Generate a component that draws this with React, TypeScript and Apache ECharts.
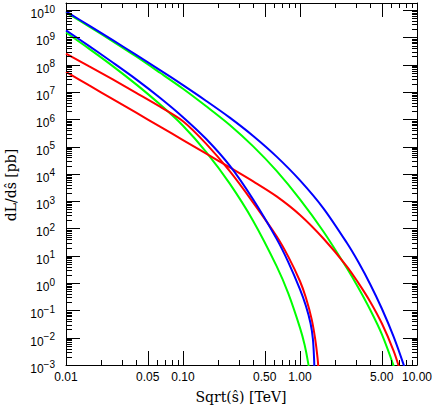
import React, { useEffect, useRef } from 'react';
import * as echarts from 'echarts';

// ---- data (sqrt(s-hat) in TeV, dL/ds-hat in pb) ----
const BLUE1_S = [0.01, 0.0158, 0.0251, 0.0398, 0.0631, 0.1, 0.158, 0.251, 0.398, 0.631, 1.0, 1.585, 2.512, 3.162, 3.981, 5.012, 6.31, 7.67, 8.91];
const BLUE1_V = [8.9e9, 2.7e9, 7.9e8, 2.3e8, 6.5e7, 1.78e7, 4.7e6, 1.15e6, 2.45e5, 4.3e4, 5.8e3, 550, 30, 5.8, 0.91, 0.115, 0.011, 1.05e-3, 1.3e-4];

const GREEN1_S = [0.01, 0.0158, 0.0251, 0.0398, 0.0631, 0.1, 0.158, 0.251, 0.398, 0.631, 1.0, 1.585, 2.512, 3.162, 3.981, 5.012, 6.31, 7.079];
const GREEN1_V = [8.3e9, 2.5e9, 7.2e8, 2.0e8, 5.2e7, 1.32e7, 3.0e6, 6.2e5, 1.02e5, 1.29e4, 1.17e3, 78, 3.55, 0.66, 0.105, 0.0132, 9.3e-4, 1.86e-4];

const BLUE2_S = [0.01, 0.0158, 0.0251, 0.0398, 0.0631, 0.1, 0.158, 0.251, 0.398, 0.631, 0.794, 1.0, 1.122, 1.23, 1.288, 1.318, 1.334];
const BLUE2_V = [1.82e9, 4.8e8, 1.2e8, 2.9e7, 6.3e6, 1.2e6, 1.9e5, 2.0e4, 1.15e3, 41.7, 5.9, 0.59, 0.148, 0.034, 9.3e-3, 1.86e-3, 3.3e-4];

const GREEN2_S = [0.01, 0.0158, 0.0251, 0.0398, 0.0631, 0.1, 0.158, 0.251, 0.398, 0.631, 0.794, 1.0, 1.096, 1.175, 1.23];
const GREEN2_V = [1.51e9, 3.8e8, 8.9e7, 1.9e7, 3.6e6, 5.8e5, 6.3e4, 4.4e3, 190, 4.2, 0.42, 0.023, 5.4e-3, 1.17e-3, 2.95e-4];

const RED1_S = [0.01, 0.0158, 0.0251, 0.0398, 0.0631, 0.1, 0.158, 0.251, 0.398, 0.631, 0.794, 1.0, 1.122, 1.259, 1.349, 1.413, 1.445];
const RED1_V = [2.57e8, 8.7e7, 2.9e7, 9.3e6, 2.95e6, 8.5e5, 1.26e5, 1.26e4, 890, 52, 9.3, 1.17, 0.295, 0.047, 8.9e-3, 1.78e-3, 5.6e-4];

const RED2_S = [0.01, 0.0158, 0.0251, 0.0398, 0.0631, 0.1, 0.158, 0.251, 0.398, 0.631, 1.0, 1.585, 2.512, 3.162, 3.981, 5.012, 6.31, 7.079, 7.413];
const RED2_V = [5.5e7, 1.74e7, 5.5e6, 1.74e6, 5.5e5, 1.74e5, 5.5e4, 1.72e4, 5.3e3, 1.5e3, 313, 43, 4.13, 1.0, 0.209, 0.033, 3.3e-3, 7.4e-4, 3.2e-4];

const X_LABEL_VALUES = [0.01, 0.05, 0.1, 0.5, 1, 5, 10];
const X_MAJOR_TICKS = [0.05, 0.1, 0.5, 1, 5];
const X_MINOR_TICKS = [0.02, 0.03, 0.04, 0.06, 0.07, 0.08, 0.09, 0.2, 0.3, 0.4, 0.6, 0.7, 0.8, 0.9, 2, 3, 4, 6, 7, 8, 9];
const Y_DECADES = [-3, -2, -1, 0, 1, 2, 3, 4, 5, 6, 7, 8, 9, 10];

const X_MIN = -2;
const X_MAX = 1;
const Y_MIN = -3;
const Y_MAX = 10.26;

const toXY = (s: number[], v: number[]) => s.map((x, i) => [Math.log10(x), Math.log10(v[i])]);

export default function App() {
  const ref = useRef<HTMLDivElement>(null);

  useEffect(() => {
    if (!ref.current) return;
    const chart = echarts.init(ref.current, null, { renderer: 'svg' });

    const tickData: number[][] = [];
    X_MAJOR_TICKS.forEach((t) => tickData.push([Math.log10(t), Y_MIN, 0]));
    X_MINOR_TICKS.forEach((t) => tickData.push([Math.log10(t), Y_MIN, 1]));
    Y_DECADES.forEach((d) => {
      if (d > Y_MIN) tickData.push([X_MIN, d, 2]);
      for (let k = 2; k <= 9; k++) {
        const v = d + Math.log10(k);
        if (v < Y_MAX - 0.05) tickData.push([X_MIN, v, 3]);
      }
    });

    const curve = (name: string, s: number[], v: number[], color: string, z: number) => ({
      name,
      type: 'line',
      data: toXY(s, v),
      showSymbol: false,
      symbol: 'none',
      smooth: 0.3,
      clip: true,
      silent: true,
      z,
      lineStyle: { color, width: 2 },
      emphasis: { disabled: true },
    });

    const sup = (d: number) => (d < 0 ? '\u2212' + String(-d) : String(d));
    const axisLine = { show: true, onZero: false, lineStyle: { color: '#000', width: 1 } };
    const sans = '"Liberation Sans", Arial, sans-serif';

    const option: any = {
      animation: false,
      backgroundColor: '#ffffff',
      grid: { left: 66, top: 3, width: 351, height: 362, show: false },
      xAxis: [
        {
          type: 'value',
          min: X_MIN,
          max: X_MAX,
          position: 'bottom',
          axisLine,
          axisTick: { show: false },
          splitLine: { show: false },
          axisLabel: {
            customValues: X_LABEL_VALUES.map((t) => Math.log10(t)),
            formatter: (val: number) => Math.pow(10, val).toFixed(2),
            showMinLabel: true,
            showMaxLabel: true,
            hideOverlap: false,
            margin: 6,
            color: '#000',
            fontSize: 12,
            fontFamily: sans,
          },
        },
        {
          type: 'value',
          min: X_MIN,
          max: X_MAX,
          position: 'top',
          axisLine,
          axisTick: { show: false },
          axisLabel: { show: false },
          splitLine: { show: false },
        },
      ],
      yAxis: [
        {
          type: 'value',
          min: Y_MIN,
          max: Y_MAX,
          position: 'left',
          axisLine,
          axisTick: { show: false },
          splitLine: { show: false },
          axisLabel: {
            customValues: Y_DECADES,
            formatter: (val: number) => `{b|10}{e|${sup(Math.round(val))}}`,
            showMinLabel: true,
            showMaxLabel: true,
            hideOverlap: false,
            margin: 11,
            color: '#000',
            fontFamily: sans,
            rich: {
              b: { fontSize: 12, lineHeight: 12, padding: [8, 0, 0, 0], color: '#000', fontFamily: sans },
              e: { fontSize: 10, lineHeight: 12, verticalAlign: 'top', color: '#000', fontFamily: sans },
            },
          },
        },
        {
          type: 'value',
          min: Y_MIN,
          max: Y_MAX,
          position: 'right',
          axisLine,
          axisTick: { show: false },
          axisLabel: { show: false },
          splitLine: { show: false },
        },
      ],
      graphic: [
        {
          type: 'text',
          x: 241,
          y: 397,
          silent: true,
          style: {
            text: 'Sqrt(\u015D) [TeV]',
            fill: '#000',
            fontSize: 14,
            fontFamily: '"DejaVu Serif", serif',
            align: 'center',
            verticalAlign: 'middle',
            textAlign: 'center',
            textVerticalAlign: 'middle',
          },
        },
        {
          type: 'text',
          x: 11,
          y: 185,
          rotation: Math.PI / 2,
          silent: true,
          style: {
            text: 'dL/d\u015D [pb]',
            fill: '#000',
            fontSize: 14,
            fontFamily: '"DejaVu Serif", serif',
            align: 'center',
            verticalAlign: 'middle',
            textAlign: 'center',
            textVerticalAlign: 'middle',
          },
        },
      ],
      series: [
        curve('green1', GREEN1_S, GREEN1_V, '#00ff00', 2),
        curve('green2', GREEN2_S, GREEN2_V, '#00ff00', 2),
        curve('red1', RED1_S, RED1_V, '#ff0000', 3),
        curve('red2', RED2_S, RED2_V, '#ff0000', 3),
        curve('blue1', BLUE1_S, BLUE1_V, '#0000ff', 4),
        curve('blue2', BLUE2_S, BLUE2_V, '#0000ff', 4),
        {
          type: 'custom',
          silent: true,
          z: 6,
          clip: false,
          data: tickData,
          renderItem: (_params: any, api: any) => {
            const a = api.value(0);
            const b = api.value(1);
            const kind = api.value(2);
            const st = { stroke: '#000', lineWidth: 1 };
            if (kind < 2) {
              const p0 = api.coord([a, Y_MIN]);
              const p1 = api.coord([a, Y_MAX]);
              const L = kind === 0 ? 14 : 5;
              const x = Math.round(p0[0]) + 0.5;
              return {
                type: 'group',
                children: [
                  { type: 'line', shape: { x1: x, y1: p0[1], x2: x, y2: p0[1] - L }, style: st },
                  { type: 'line', shape: { x1: x, y1: p1[1], x2: x, y2: p1[1] + L }, style: st },
                ],
              };
            }
            const p0 = api.coord([X_MIN, b]);
            const p1 = api.coord([X_MAX, b]);
            const y = Math.round(p0[1]) + 0.5;
            const Ll = kind === 2 ? 14 : 6;
            const Lr = kind === 2 ? 14 : 5;
            return {
              type: 'group',
              children: [
                { type: 'line', shape: { x1: p0[0], y1: y, x2: p0[0] + Ll, y2: y }, style: st },
                { type: 'line', shape: { x1: p1[0], y1: y, x2: p1[0] - Lr, y2: y }, style: st },
              ],
            };
          },
        },
      ],
    };

    chart.setOption(option);
    return () => chart.dispose();
  }, []);

  return (
    <div
      ref={ref}
      style={{ position: 'fixed', left: 0, top: 0, width: 436, height: 409, background: '#fff' }}
    />
  );
}
